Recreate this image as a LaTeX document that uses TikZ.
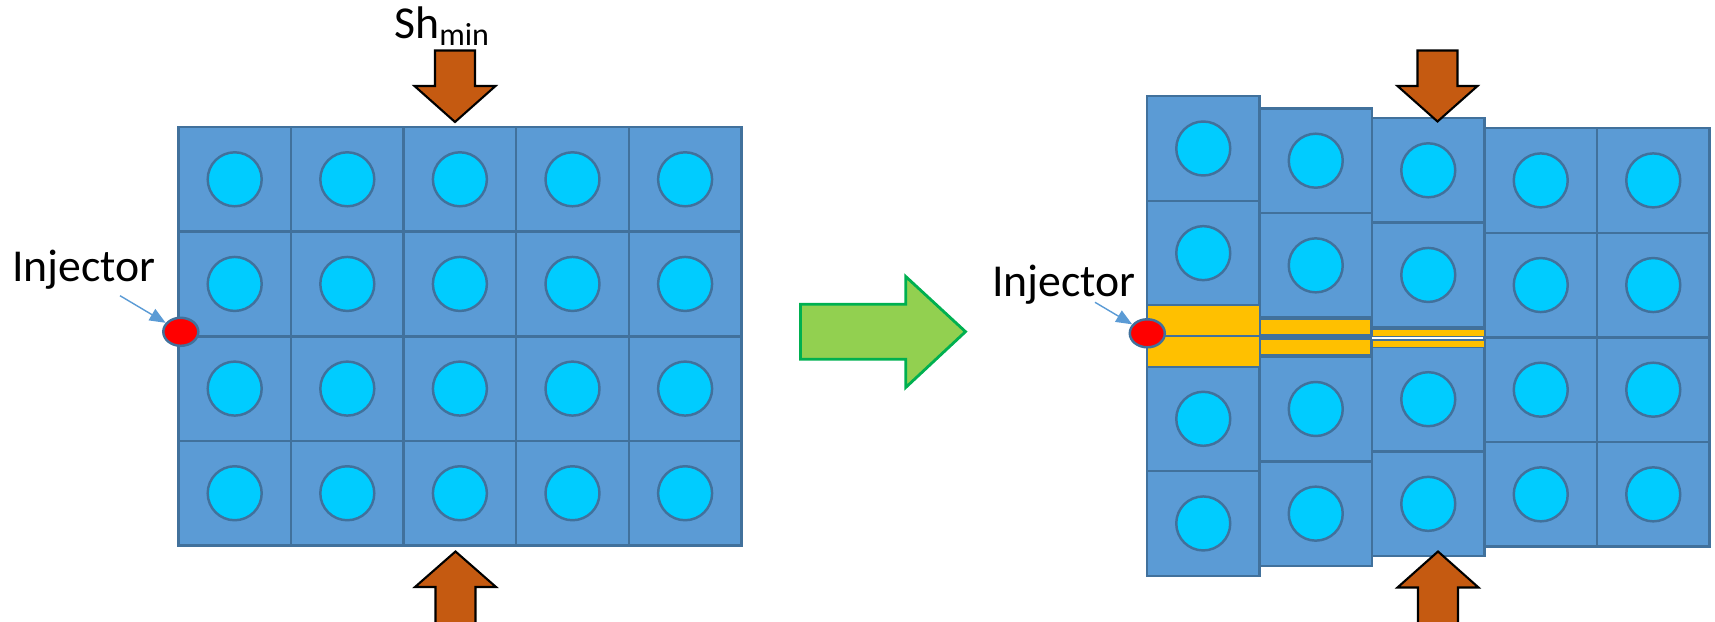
\documentclass[tikz,border=0pt]{standalone}
\usepackage{fontspec}
\usepackage{amsmath}
\setmainfont{Carlito}
\usepackage{tikz}
\usetikzlibrary{shapes.geometric,arrows.meta}

\definecolor{cellfill}{HTML}{5B9BD5}
\definecolor{cellline}{HTML}{41719C}
\definecolor{graincol}{HTML}{00CCFF}
\definecolor{fraccol}{HTML}{FFC000}
\definecolor{stresscol}{HTML}{C55A11}
\definecolor{flowfill}{HTML}{92D050}
\definecolor{flowline}{HTML}{00B050}

\tikzset{
  cell/.style={draw=cellline, fill=cellfill, line width=0.7pt},
  grain/.style={draw=cellline, fill=graincol, line width=0.7pt},
  frac/.style={draw=cellline, fill=fraccol, line width=0.45pt},
  stress/.style={draw=black, fill=stresscol, line width=0.6pt, line join=miter},
  injdot/.style={ellipse, draw=cellline, fill=red, line width=0.7pt,
    minimum width=3.5mm, minimum height=2.8mm, inner sep=0pt},
  injarrow/.style={draw=cellfill, line width=0.4pt,
    -{Triangle[length=1.6mm, width=1.3mm]}},
  lbl/.style={font=\fontsize{13}{15}\selectfont, inner sep=0pt}
}

\begin{document}
\begin{tikzpicture}[x=0.01cm, y=-0.01cm]
        \clip (0,0) rectangle (1715,622);

        % Grid before injection
        \foreach \c in {0,...,4}
          \foreach \r in {0,...,3} {
            \draw [cell] ({178.4+112.6*\c},{127+104.65*\r}) rectangle ++(112.6,104.65);
            \draw [grain] ({234.7+112.6*\c},{179.3+104.65*\r}) circle [radius=27];
          }

        % Grid after injection, opened columns
        \foreach \cx/\cy/\gap in {1147/96.2/61, 1259.5/108.4/39, 1372/118/19.6}
          \foreach \r in {0,1} {
            \draw [cell] (\cx,{\cy+104.65*\r}) rectangle ++(112.5,104.65);
            \draw [grain] ({\cx+56.25},{\cy+52.3+104.65*\r}) circle [radius=27];
            \draw [cell] (\cx,{\cy+209.3+\gap+104.65*\r}) rectangle ++(112.5,104.65);
            \draw [grain] ({\cx+56.25},{\cy+261.6+\gap+104.65*\r}) circle [radius=27];
          }

        % Grid after injection, closed columns
        \foreach \cx in {1484.5, 1597}
          \foreach \r in {0,...,3} {
            \draw [cell] (\cx,{128.1+104.65*\r}) rectangle ++(112.5,104.65);
            \draw [grain] ({\cx+56.25},{180.4+104.65*\r}) circle [radius=27];
          }

        % Fracture
        \fill [cellline] (1259.5,317.8) rectangle (1372,356.7);
        \draw [frac] (1147,305.6) rectangle (1259.5,336);
        \draw [frac] (1147,336) rectangle (1259.5,366.5);
        \draw [frac] (1260.5,319.5) rectangle (1371,335);
        \draw [frac] (1260.5,339) rectangle (1371,355);
        \draw [frac] (1372,329.5) rectangle (1484.5,336.5);
        \draw [frac] (1372,340) rectangle (1484.5,347.5);

        % Stress arrows
        \draw [stress] (455,122) -- ++(-40.5,-36) -- ++(20.5,0) -- ++(0,-35.5)
          -- ++(40,0) -- ++(0,35.5) -- ++(20.5,0) -- cycle;
        \draw [stress] (455.5,551.5) -- ++(40.5,35.5) -- ++(-20.5,0) -- ++(0,45)
          -- ++(-40,0) -- ++(0,-45) -- ++(-20.5,0) -- cycle;
        \draw [stress] (1437.5,121.5) -- ++(-40,-35.5) -- ++(20,0) -- ++(0,-35.5)
          -- ++(40,0) -- ++(0,35.5) -- ++(20,0) -- cycle;
        \draw [stress] (1438,551.5) -- ++(40.5,36) -- ++(-20.5,0) -- ++(0,45)
          -- ++(-40,0) -- ++(0,-45) -- ++(-20.5,0) -- cycle;
        \node [lbl, anchor=base west] (shmin) at (393.6,38.5) {Sh$_{\text{min}}$};

        % Step arrow
        \draw [draw=flowline, fill=flowfill, line width=0.8pt] (800.5,304.3) -- (905.7,304.3)
          -- (905.7,276.5) -- (965.5,331.7) -- (905.7,387.5) -- (905.7,359.3)
          -- (800.5,359.3) -- cycle;

        % Injectors
        \node [injdot] (dot1) at (180.8,331.8) {};
        \node [lbl, anchor=base west] (inj1) at (11.7,281.7) {Injector};
        \coordinate (tail1) at (120,295.7);
        \draw [injarrow] (tail1) -- (dot1);

        \node [injdot] (dot2) at (1147.3,333.3) {};
        \node [lbl, anchor=base west] (inj2) at (991.7,296.7) {Injector};
        \coordinate (tail2) at (1095,302.3);
        \draw [injarrow] (tail2) -- (dot2);
\end{tikzpicture}
\end{document}
